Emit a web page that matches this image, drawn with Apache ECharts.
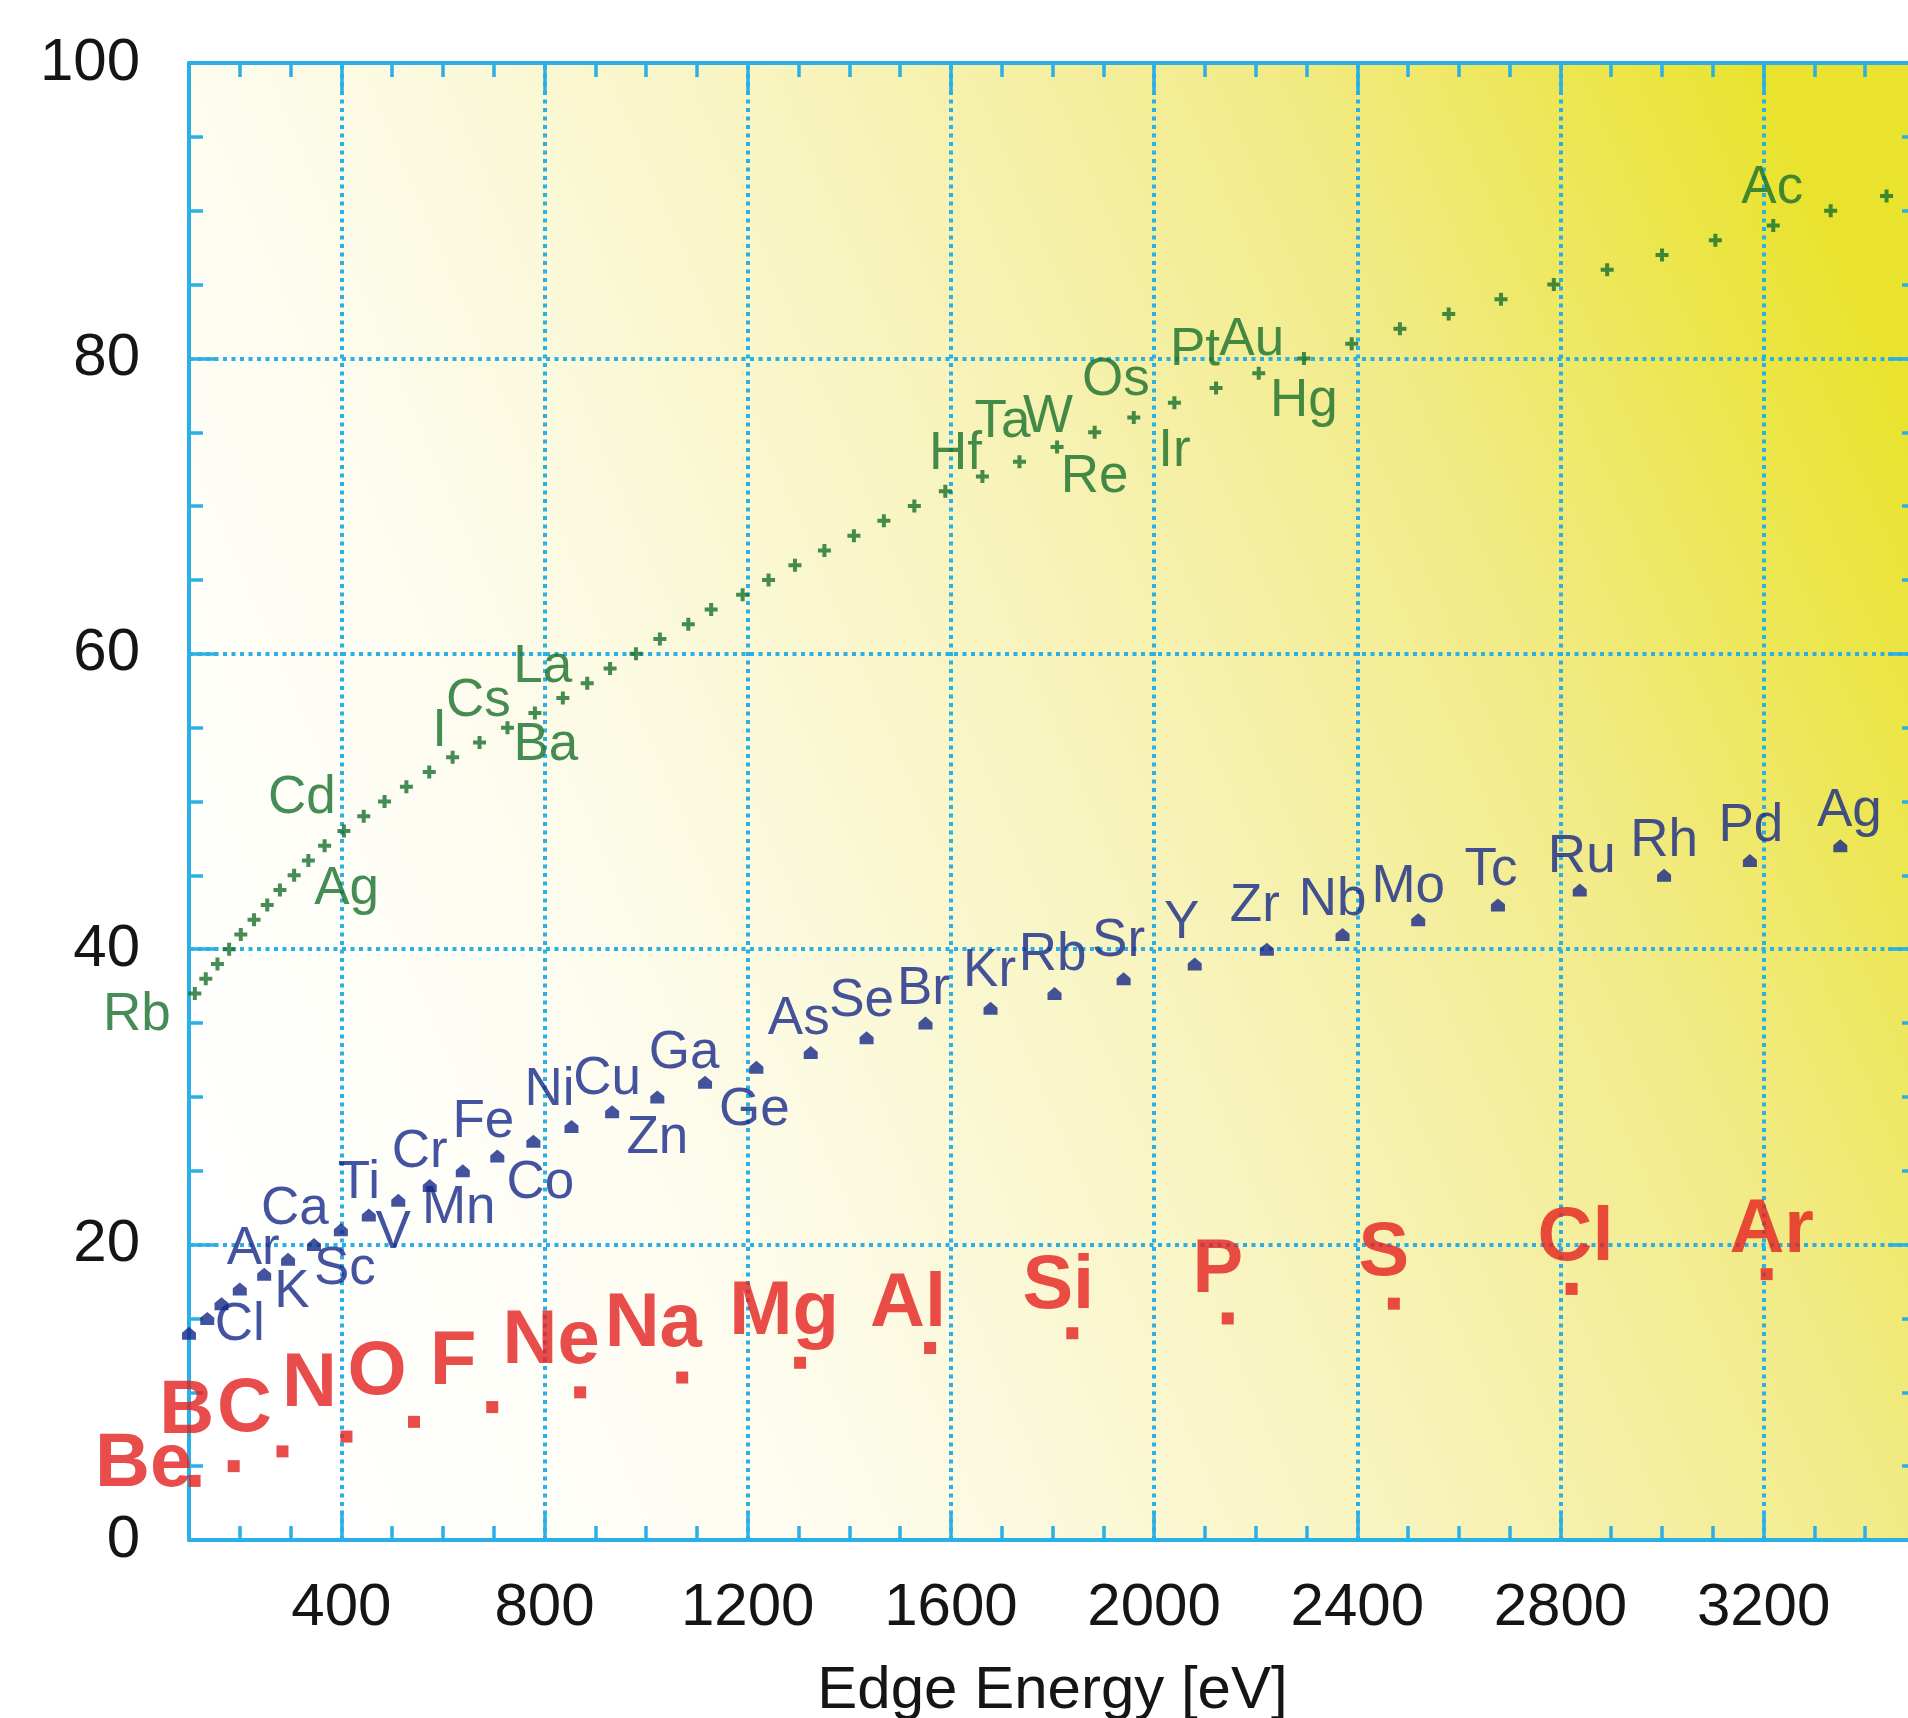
<!DOCTYPE html>
<html>
<head>
<meta charset="utf-8">
<title>Edge Energy</title>
<script src="https://cdn.jsdelivr.net/npm/echarts@6/dist/echarts.min.js"></script>
<style>
  html, body { margin: 0; padding: 0; background: #fff; }
  #chart { width: 1908px; height: 1718px; }
</style>
</head>
<body>
<div id="chart"></div>
<script>
// K edges (red)
const kSymbols = ["Be", "B", "C", "N", "O", "F", "Ne", "Na", "Mg", "Al", "Si", "P", "S", "Cl", "Ar"];
const kZ = [4, 5, 6, 7, 8, 9, 10, 11, 12, 13, 14, 15, 16, 17, 18];
const kEnergy = [111, 188, 284, 410, 543, 697, 870, 1071, 1303, 1559, 1839, 2145, 2472, 2822, 3206];

// L3 edges (blue)
const lSymbols = ["Si", "P", "S", "Cl", "Ar", "K", "Ca", "Sc", "Ti", "V", "Cr", "Mn", "Fe", "Co", "Ni", "Cu", "Zn",
  "Ga", "Ge", "As", "Se", "Br", "Kr", "Rb", "Sr", "Y", "Zr", "Nb", "Mo", "Tc", "Ru", "Rh", "Pd", "Ag"];
const lZ = [14, 15, 16, 17, 18, 19, 20, 21, 22, 23, 24, 25, 26, 27, 28, 29, 30,
  31, 32, 33, 34, 35, 36, 37, 38, 39, 40, 41, 42, 43, 44, 45, 46, 47];
const lEnergy = [100, 136, 164, 200, 248, 295, 346, 399, 454, 512, 574, 639, 707, 778, 853, 933, 1022,
  1116, 1217, 1324, 1434, 1550, 1678, 1804, 1940, 2080, 2222, 2371, 2520, 2677, 2838, 3004, 3173, 3351];

// M5 edges (green)
const mSymbols = ["Rb", "Sr", "Y", "Zr", "Nb", "Mo", "Tc", "Ru", "Rh", "Pd", "Ag", "Cd", "In", "Sn", "Sb", "Te",
  "I", "Xe", "Cs", "Ba", "La", "Ce", "Pr", "Nd", "Pm", "Sm", "Eu", "Gd", "Tb", "Dy", "Ho", "Er", "Tm", "Yb",
  "Lu", "Hf", "Ta", "W", "Re", "Os", "Ir", "Pt", "Au", "Hg", "Tl", "Pb", "Bi", "Po", "At", "Rn", "Fr", "Ra",
  "Ac", "Th", "Pa"];
const mZ = [37, 38, 39, 40, 41, 42, 43, 44, 45, 46, 47, 48, 49, 50, 51, 52,
  53, 54, 55, 56, 57, 58, 59, 60, 61, 62, 63, 64, 65, 66, 67, 68, 69, 70,
  71, 72, 73, 74, 75, 76, 77, 78, 79, 80, 81, 82, 83, 84, 85, 86, 87, 88,
  89, 90, 91];
const mEnergy = [111.5, 133, 156, 179, 202, 228, 254, 279, 307, 335, 367, 405, 444, 485, 528, 573,
  619, 672, 727, 781, 836, 884, 929, 980, 1027, 1083, 1128, 1190, 1241, 1293, 1351, 1409, 1468, 1528,
  1589, 1662, 1735, 1809, 1883, 1960, 2040, 2122, 2206, 2295, 2389, 2484, 2580, 2683, 2787, 2892, 3000, 3105,
  3219, 3332, 3442];

const xLabelTicks = [400, 800, 1200, 1600, 2000, 2400, 2800, 3200];

// where each element name sits relative to its point (px)
const kLabelPos = {
  Be: [-51, -16], B: [-47, -54], C: [-38, -41], N: [-37, -52], O: [-37, -49], F: [-39, -44],
  Ne: [-29, -50], Na: [-29, -52], Mg: [-16, -50], Al: [-22, -43], Si: [-14, -46], P: [-10, -47],
  S: [-10, -50], Cl: [4, -50], Ar: [5, -43]
};
const lLabelPos = {
  Cl: [0, 36], Ar: [-11, -25], K: [4, 33], Ca: [-19, -35], Sc: [4, 40], Ti: [-10, -32], V: [-5, 33],
  Cr: [-10, -33], Mn: [-4, 38], Fe: [-14, -34], Co: [7, 42], Ni: [-22, -36], Cu: [-5, -32], Zn: [0, 41],
  Ga: [-21, -29], Ge: [-2, 43], As: [-12, -33], Se: [-5, -36], Br: [-2, -34], Kr: [-1, -37],
  Rb: [-2, -38], Sr: [-5, -37], Y: [-13, -41], Zr: [-12, -43], Nb: [-10, -34], Mo: [-10, -32],
  Tc: [-7, -34], Ru: [2, -33], Rh: [0, -34], Pd: [1, -34], Ag: [9, -34]
};
const mLabelPos = {
  Rb: [-58, 22], Ag: [22, 44], Cd: [-42, -33], I: [-13, -26], Cs: [-29, -26], Ba: [11, 33],
  La: [-20, -31], Hf: [-27, -22], Ta: [-17, -39], W: [-9, -30], Re: [0, 45], Os: [-18, -37],
  Ir: [0, 49], Pt: [-21, -38], Au: [-7, -33], Hg: [0, 43], Ac: [-1, -37]
};

const AXIS = "#2aafe6";
const FONT = "'Liberation Sans', Arial, sans-serif";

function buildData(symbols, zs, energies, labelPos) {
  return symbols.map((s, i) => {
    const item = { name: s, value: [energies[i], zs[i]] };
    if (labelPos[s]) {
      item.label = { show: true, offset: labelPos[s] };
    }
    return item;
  });
}

function edgeSeries(name, data, color, symbol, size, fontSize, bold) {
  return {
    name: name,
    type: "scatter",
    data: data,
    symbol: symbol,
    symbolSize: size,
    itemStyle: { color: color },
    silent: true,
    clip: false,
    z: 5,
    label: {
      show: false,
      position: "inside",
      formatter: "{b}",
      align: "center",
      verticalAlign: "middle",
      color: color,
      fontSize: fontSize,
      fontWeight: bold ? "bold" : "normal",
      fontFamily: FONT
    }
  };
}

const chart = echarts.init(document.getElementById("chart"));

const tickStyle = { color: AXIS, width: 3.5 };
const dotted = { color: AXIS, width: 4, type: [4, 4.5] };

const option = {
  animation: false,
  grid: {
    left: 189,
    right: -8,
    top: 63,
    bottom: 178,
    outerBoundsMode: "none",
    containLabel: false,
    show: true,
    borderWidth: 0,
    backgroundColor: new echarts.graphic.LinearGradient(0, 0.75, 1, 0.25, [
      { offset: 0, color: "#ffffff" },
      { offset: 0.2, color: "#fefdf3" },
      { offset: 0.35, color: "#fbf9dc" },
      { offset: 0.55, color: "#f7f3b8" },
      { offset: 0.75, color: "#f2eb8a" },
      { offset: 1, color: "#e9e32e" }
    ])
  },
  xAxis: [
    {
      type: "value",
      position: "bottom",
      min: 100,
      max: 3500,
      interval: 100,
      name: "Edge Energy [eV]",
      nameLocation: "middle",
      nameGap: 121,
      nameTextStyle: { color: "#151515", fontSize: 60, fontFamily: FONT },
      axisLine: { lineStyle: { color: AXIS, width: 4 } },
      axisTick: { inside: true, length: 14, lineStyle: tickStyle },
      axisLabel: {
        margin: 38,
        color: "#151515",
        fontSize: 60,
        fontFamily: FONT,
        formatter: (v) => (xLabelTicks.includes(v) ? String(v) : "")
      },
      splitLine: { show: false }
    },
    {
      type: "value",
      position: "bottom",
      min: 100,
      max: 3500,
      axisLine: { show: false },
      axisTick: { inside: true, length: 28, lineStyle: tickStyle, customValues: xLabelTicks },
      axisLabel: { show: false },
      splitLine: { show: false }
    },
    {
      type: "value",
      position: "top",
      min: 100,
      max: 3500,
      interval: 100,
      axisLine: { lineStyle: { color: AXIS, width: 4 } },
      axisTick: { inside: true, length: 14, lineStyle: tickStyle },
      axisLabel: { show: false },
      splitLine: { show: false }
    },
    {
      type: "value",
      position: "top",
      min: 100,
      max: 3500,
      axisLine: { show: false },
      axisTick: { inside: true, length: 28, lineStyle: tickStyle, customValues: xLabelTicks },
      axisLabel: { show: false },
      splitLine: { show: false }
    }
  ],
  yAxis: [
    {
      type: "value",
      position: "left",
      min: 0,
      max: 100,
      interval: 20,
      axisLine: { show: true, lineStyle: { color: AXIS, width: 4 } },
      axisTick: { show: true, inside: true, length: 28, lineStyle: tickStyle },
      minorTick: { show: true, splitNumber: 4, length: 14, lineStyle: tickStyle },
      axisLabel: { margin: 49, color: "#151515", fontSize: 60, fontFamily: FONT },
      splitLine: { show: true, lineStyle: dotted }
    },
    {
      type: "value",
      position: "right",
      min: 0,
      max: 100,
      interval: 20,
      axisLine: { show: true, lineStyle: { color: AXIS, width: 4 } },
      axisTick: { show: true, inside: true, length: 28, lineStyle: tickStyle },
      minorTick: { show: true, splitNumber: 4, length: 14, lineStyle: tickStyle },
      axisLabel: { show: false },
      splitLine: { show: false }
    }
  ],
  series: [
    {
      name: "grid",
      type: "scatter",
      data: [],
      silent: true,
      z: 1,
      markLine: {
        silent: true,
        symbol: "none",
        animation: false,
        label: { show: false },
        lineStyle: dotted,
        data: xLabelTicks.map((v) => ({ xAxis: v }))
      }
    },
    edgeSeries("M5", buildData(mSymbols, mZ, mEnergy, mLabelPos), "#176f2c",
      "path://M4.5,0 H8.5 V4.5 H13 V8.5 H8.5 V13 H4.5 V8.5 H0 V4.5 H4.5 Z", 13, 53, false),
    edgeSeries("L3", buildData(lSymbols, lZ, lEnergy, lLabelPos), "#152888",
      "path://M6,0 L12,5 L12,11 L0,11 L0,5 Z", [14, 13], 53, false),
    edgeSeries("K", buildData(kSymbols, kZ, kEnergy, kLabelPos), "#e3201e",
      "rect", 12, 76, true)
  ]
};

chart.setOption(option);
</script>
</body>
</html>
